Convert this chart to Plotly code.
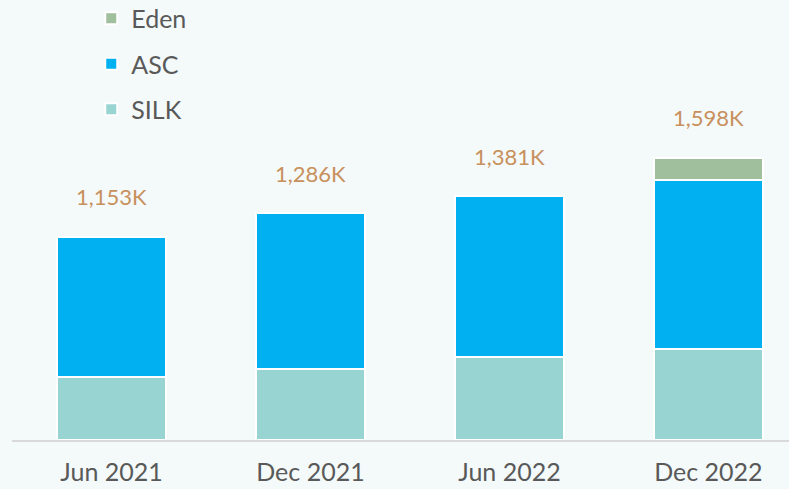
import plotly.graph_objects as go

categories = ["Jun 2021", "Dec 2021", "Jun 2022", "Dec 2022"]
silk = [357, 400, 472, 515]
totals = [1153, 1286, 1381, 1598]
eden = [0, 0, 0, 125]
asc = [t - s - e for t, s, e in zip(totals, silk, eden)]
total_labels = ["1,153K", "1,286K", "1,381K", "1,598K"]

colors = {"SILK": "#98d5d2", "ASC": "#00b0f0", "Eden": "#a0bf9c"}
ranks = {"Eden": 1, "ASC": 2, "SILK": 3}
FONT = "Lato"

fig = go.Figure()
for name, vals in [("SILK", silk), ("ASC", asc), ("Eden", eden)]:
    fig.add_trace(go.Bar(
        x=list(range(len(categories))), y=vals, name=name,
        legendgroup=name, legendrank=ranks[name],
        marker=dict(color=colors[name], line=dict(color="white", width=2)),
        width=0.55,
    ))

for i, (t, lab) in enumerate(zip(totals, total_labels)):
    fig.add_annotation(x=i, y=t, text=lab, showarrow=False, yshift=40,
                       font=dict(family=FONT, size=22, color="#c8905c"))

fig.update_layout(
    barmode="stack",
    width=789, height=489,
    margin=dict(l=12, r=0, t=0, b=49, autoexpand=False),
    paper_bgcolor="#f4f9fa", plot_bgcolor="#f4f9fa",
    showlegend=True,
    legend=dict(traceorder="grouped", x=0.102, y=1.01, xanchor="left", yanchor="top",
                font=dict(family=FONT, size=25, color="#595959"),
                tracegroupgap=10, bgcolor="rgba(0,0,0,0)", itemwidth=30),
    xaxis=dict(tickmode="array", tickvals=list(range(len(categories))), ticktext=categories,
               range=[-0.5, 3.405], showgrid=False, zeroline=False,
               showline=True, linecolor="#d9d9d9", linewidth=2, ticklabelstandoff=9,
               tickfont=dict(family=FONT, size=25, color="#595959"), ticks=""),
    yaxis=dict(range=[0, 2493], visible=False, showgrid=False, zeroline=False),
)

fig.write_html("out.html")
